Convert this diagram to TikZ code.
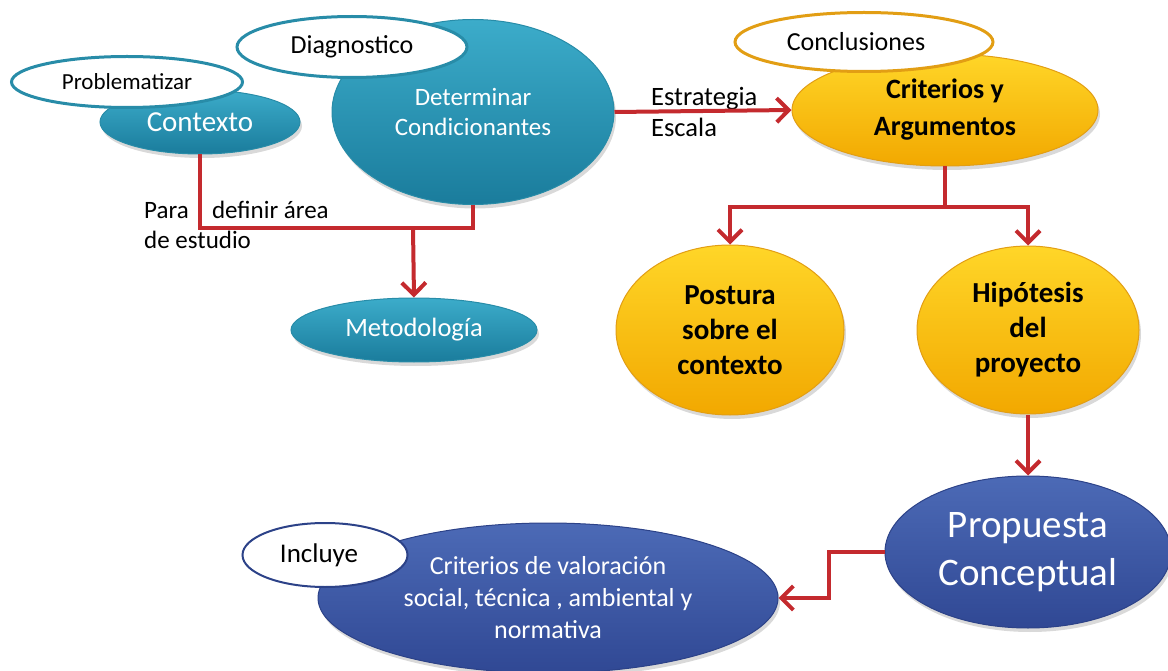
\documentclass[tikz,border=0pt]{standalone}
\usepackage{fontspec}
\setmainfont{Carlito}
\usetikzlibrary{arrows.meta,positioning,shapes.geometric,shadows}
\definecolor{tealtop}{RGB}{60,172,202}
\definecolor{tealbot}{RGB}{26,124,156}
\definecolor{tealline}{RGB}{40,140,168}
\definecolor{goldtop}{RGB}{255,214,40}
\definecolor{goldbot}{RGB}{242,168,0}
\definecolor{goldline}{RGB}{226,158,20}
\definecolor{navytop}{RGB}{76,106,182}
\definecolor{navybot}{RGB}{48,72,148}
\definecolor{navyline}{RGB}{44,66,136}
\definecolor{linkred}{RGB}{196,42,46}
\newcommand{\fs}[2]{\fontsize{#1}{#2}\selectfont}

\begin{document}
\begin{tikzpicture}[x=1pt,y=-1pt]
\tikzstyle{blob}=[ellipse, inner sep=0pt, align=center, line width=1pt, drop shadow={opacity=0.3, shadow xshift=2pt, shadow yshift=-4pt}]
\tikzstyle{tealnode}=[blob, top color=tealtop, bottom color=tealbot, draw=tealline, text=white]
\tikzstyle{goldnode}=[blob, top color=goldtop, bottom color=goldbot, draw=goldline]
\tikzstyle{navynode}=[blob, top color=navytop, bottom color=navybot, draw=navyline, text=white]
\tikzstyle{tagnode}=[ellipse, inner sep=0pt, fill=white, line width=3pt]
\tikzstyle{link}=[draw=linkred, line width=4pt]
\tikzstyle{arr}=[link, -{Straight Barb[length=12pt, width=24pt]}]
\useasboundingbox (0,0) rectangle (1168,671);

\node[tealnode, minimum width=200, minimum height=64, font=\fs{29}{32}] (ctx) at (200,122) {Contexto};
\node[tealnode, minimum width=282, minimum height=185, font=\fs{25}{30}] (det) at (473,112) {Determinar\\Condicionantes};
\node[tealnode, minimum width=246, minimum height=64, font=\fs{26.5}{30}] (met) at (414,330) {Metodología};
\node[goldnode, minimum width=306, minimum height=112, font=\bfseries\fs{28}{37}] (crit) at (945,110) {Criterios y\\Argumentos};
\node[goldnode, minimum width=228, minimum height=170, font=\bfseries\fs{29}{35}] (pos) at (730,330) {Postura\\sobre el\\contexto};
\node[goldnode, minimum width=222, minimum height=168, font=\bfseries\fs{29}{35}] (hip) at (1028,330) {Hipótesis\\del\\proyecto};
\node[navynode, minimum width=286, minimum height=152, font=\fs{39}{48}] (prop) at (1028,552) {Propuesta\\Conceptual};
\node[navynode, minimum width=460, minimum height=150, font=\fs{26}{32}] (val) at (548,598) {Criterios de valoración\\social, técnica , ambiental y\\normativa};

% etiquetas
\node[tagnode, draw=tealline, minimum width=231, minimum height=51, font=\fs{23}{26}] (prob) at (127,82) {Problematizar};
\node[tagnode, draw=tealline, minimum width=230, minimum height=61, font=\fs{26}{28}] (diag) at (352,47) {Diagnostico};
\node[tagnode, draw=goldline, minimum width=258, minimum height=59, font=\fs{26}{28}] (conc) at (864,42) {\hspace*{-16pt}Conclusiones};
\node[tagnode, draw=navyline, line width=2pt, minimum width=165, minimum height=64, font=\fs{27}{30}] (incl) at (325,555) {\hspace*{-12pt}Incluye};

\node[anchor=north west, align=left, inner sep=0pt, font=\fs{25}{30}] (area) at (144,201) {Para \hspace{12pt} definir área\\de estudio};
\node[anchor=west, align=left, inner sep=0pt, font=\fs{26.5}{31}] (esc) at (651,112) {Estrategia\\Escala};

% conectores
\coordinate (j1) at (413,228);
\coordinate (j2) at (945,207);
\draw[link] (ctx.south) |- (j1) -| (det.south);
\draw[arr] (j1) -- (met.north);
\draw[arr] (det.east) -- (crit.west);
\draw[link] (crit.south) -- (j2);
\draw[arr] (j2) -| (pos.north);
\draw[arr] (j2) -| (hip.north);
\draw[arr] (hip.south) -- (prop.north);
\draw[arr] (prop.west) -- ++(-56,0) |- (val.east);
\end{tikzpicture}
\end{document}
